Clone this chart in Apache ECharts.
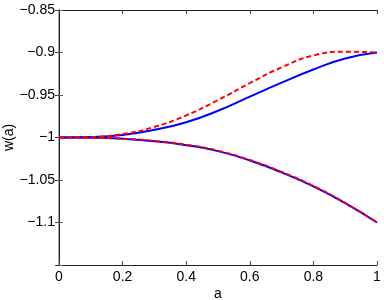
<!DOCTYPE html>
<html><head><meta charset="utf-8">
<script src="https://cdn.jsdelivr.net/npm/echarts@6/dist/echarts.min.js"></script>
<style>html,body{margin:0;padding:0;background:#fff}#c{width:384px;height:300px}</style>
</head><body><div id="c"></div>
<script>
const aValues = [0, 0.1, 0.2, 0.3, 0.4, 0.5, 0.6, 0.7, 0.8, 0.9, 1.0];
const upperSolid = [-1, -0.9995, -0.997, -0.991, -0.982, -0.9685, -0.952, -0.9355, -0.920, -0.907, -0.900];
const upperDashed = [-1, -0.9995, -0.996, -0.9875, -0.974, -0.956, -0.936, -0.9175, -0.9035, -0.899, -0.900];
const lowerSolid = [-1, -1.0003, -1.0015, -1.0043, -1.009, -1.016, -1.027, -1.041, -1.0575, -1.0772, -1.100];
const lowerDashed = [-1, -1.0003, -1.0014, -1.004, -1.0085, -1.0155, -1.0265, -1.0405, -1.057, -1.077, -1.100];
const xTicks = [0, 0.2, 0.4, 0.6, 0.8, 1];
const yTicks = [-1.1, -1.05, -1, -0.95, -0.9, -0.85];

const pairs = arr => aValues.map((a, i) => [a, arr[i]]);
const font = 'Liberation Sans, Arial, sans-serif';
const fmtY = v => {
  const hit = yTicks.find(t => Math.abs(t - v) < 1e-9);
  return hit === undefined ? '' : String(hit).replace('-', '\u2212');
};
const chart = echarts.init(document.getElementById('c'));
const lineSeries = (data, color, dashed) => ({
  type: 'line', data, smooth: true, showSymbol: false, symbol: 'none',
  lineStyle: { color, width: 2, type: dashed ? [5, 3] : 'solid' },
  z: dashed ? 3 : 2, animation: false
});
chart.setOption({
  animation: false,
  grid: { left: 59, right: 7, top: 10, bottom: 35, outerBoundsMode: 'none', containLabel: false },
  xAxis: [{
    type: 'value', min: 0, max: 1, interval: 0.2,
    name: 'a', nameLocation: 'middle', nameGap: 22, nameMoveOverlap: false,
    nameTextStyle: { fontFamily: font, fontSize: 14, color: '#000' },
    axisLine: { lineStyle: { color: '#222', width: 1 } },
    axisTick: { inside: true, length: 4, lineStyle: { color: '#444' } },
    axisLabel: { fontFamily: font, fontSize: 14, color: '#000', margin: 5,
      formatter: v => { const h = xTicks.find(t => Math.abs(t - v) < 1e-9); return h === undefined ? '' : String(h); } },
    splitLine: { show: false }
  }, {
    type: 'value', position: 'top', min: 0, max: 1, interval: 0.2,
    axisLine: { show: true, lineStyle: { color: '#222', width: 1 } },
    axisTick: { inside: true, length: 4, lineStyle: { color: '#444' } },
    axisLabel: { show: false }, splitLine: { show: false }
  }],
  yAxis: [{
    type: 'value', min: -1.15, max: -0.85, interval: 0.05,
    name: 'w(a)', nameLocation: 'middle', nameGap: 43, nameRotate: 90, nameMoveOverlap: false,
    nameTextStyle: { fontFamily: font, fontSize: 14, color: '#000' },
    axisLine: { show: true, lineStyle: { color: '#888', width: 1.5 } },
    axisTick: { inside: true, length: 4, lineStyle: { color: '#666' } },
    axisLabel: { fontFamily: font, fontSize: 14, color: '#000', margin: 4, formatter: fmtY },
    splitLine: { show: false }
  }, {
    type: 'value', position: 'right', min: -1.15, max: -0.85, interval: 0.05,
    axisLine: { show: true, lineStyle: { color: '#222', width: 1 } },
    axisTick: { inside: true, length: 4, lineStyle: { color: '#444' } },
    axisLabel: { show: false }, splitLine: { show: false }
  }],
  series: [
    lineSeries(pairs(upperSolid), '#0000ff', false),
    lineSeries(pairs(lowerSolid), '#0000ff', false),
    lineSeries(pairs(upperDashed), '#ff0000', true),
    lineSeries(pairs(lowerDashed), '#ff0000', true)
  ]
});
</script></body></html>
